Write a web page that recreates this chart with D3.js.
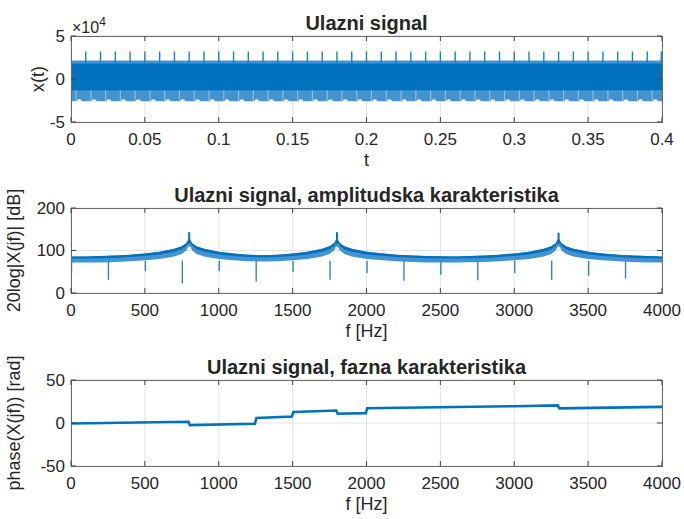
<!DOCTYPE html>
<html lang="en">
<head>
<meta charset="UTF-8">
<title>Ulazni signal</title>
<script src="https://d3js.org/d3.v7.min.js"></script>
<style>
  body { margin: 0; background: #fff; }
  text { font-family: "Liberation Sans", Arial, Helvetica, sans-serif; fill: #262626; }
</style>
</head>
<body>
<script>
  // ---- tick values ----
  const tTicks = [0, 0.05, 0.1, 0.15, 0.2, 0.25, 0.3, 0.35, 0.4];
  const xtTicks = [-50000, 0, 50000];
  const fTicks = [0, 500, 1000, 1500, 2000, 2500, 3000, 3500, 4000];
  const dbTicks = [0, 100, 200];
  const phTicks = [-50, 0, 50];

  // ---- time signal (dense band + periodic spikes) ----
  const bandT = [0, 0.4];
  const bandOuterHi = [21500, 21500];
  const bandOuterLo = [-26000, -26000];
  const bandCoreHi = [18000, 18000];
  const bandCoreLo = [-13000, -13000];
  const spikeT = [0, 0.01, 0.02, 0.03, 0.04, 0.05, 0.06, 0.07, 0.08, 0.09, 0.1,
    0.11, 0.12, 0.13, 0.14, 0.15, 0.16, 0.17, 0.18, 0.19, 0.2,
    0.21, 0.22, 0.23, 0.24, 0.25, 0.26, 0.27, 0.28, 0.29, 0.3,
    0.31, 0.32, 0.33, 0.34, 0.35, 0.36, 0.37, 0.38, 0.39, 0.3995];
  const spikeRange = [19000, 32000];
  const lowSpikeT = [0.0034, 0.0134, 0.0234, 0.0334, 0.0434, 0.0534, 0.0634, 0.0734, 0.0834, 0.0934,
    0.1034, 0.1134, 0.1234, 0.1334, 0.1434, 0.1534, 0.1634, 0.1734, 0.1834, 0.1934,
    0.2034, 0.2134, 0.2234, 0.2334, 0.2434, 0.2534, 0.2634, 0.2734, 0.2834, 0.2934,
    0.3034, 0.3134, 0.3234, 0.3334, 0.3434, 0.3534, 0.3634, 0.3734, 0.3834, 0.3934];
  const lowSpikeRange = [-26000, -9000];
  const dentT = [0.0056, 0.0156, 0.0256, 0.0356, 0.0456, 0.0556, 0.0656, 0.0756, 0.0856, 0.0956,
    0.1056, 0.1156, 0.1256, 0.1356, 0.1456, 0.1556, 0.1656, 0.1756, 0.1856, 0.1956,
    0.2056, 0.2156, 0.2256, 0.2356, 0.2456, 0.2556, 0.2656, 0.2756, 0.2856, 0.2956,
    0.3056, 0.3156, 0.3256, 0.3356, 0.3456, 0.3556, 0.3656, 0.3756, 0.3856, 0.3956];

  // ---- amplitude spectrum (upper / lower edge of the band, dB) ----
  const specF = [0, 100, 200, 300, 400, 500, 600, 700, 750, 780, 792, 800, 808, 820, 850, 900,
    1000, 1100, 1200, 1300, 1400, 1500, 1600, 1700, 1750, 1780, 1792, 1800, 1808, 1820, 1850, 1900,
    2000, 2200, 2400, 2600, 2800, 2900, 3000, 3100, 3200, 3250, 3280, 3292, 3300, 3308, 3320, 3350, 3400,
    3500, 3600, 3700, 3800, 3900, 4000];
  const specHi = [86, 86, 87, 88, 90, 93, 97, 104, 110, 117, 124, 128, 124, 117, 110, 104,
    97, 93, 90, 89, 90, 93, 97, 104, 110, 117, 124, 128, 124, 117, 110, 104,
    97, 90, 87, 86, 88, 90, 93, 97, 104, 110, 117, 124, 128, 124, 117, 110, 104,
    97, 93, 90, 88, 87, 86];
  const specLo = [72, 72, 72, 73, 75, 77, 80, 86, 92, 100, 108, 110, 108, 100, 92, 86,
    80, 77, 75, 74, 75, 77, 80, 86, 92, 100, 108, 110, 108, 100, 92, 86,
    80, 75, 72, 72, 73, 75, 77, 80, 86, 92, 100, 108, 110, 108, 100, 92, 86,
    80, 77, 75, 73, 72, 72];
  const peakF = [800, 1800, 3300];
  const peakDb = [143, 143, 142];
  const dipF = [0, 250, 500, 750, 1000, 1250, 1500, 1750, 2000, 2250, 2500, 2750, 3000, 3250, 3500, 3750];
  const dipDb = [47, 31, 51, 23, 51, 27, 50, 31, 47, 29, 43, 30, 47, 31, 41, 34];

  // ---- phase (rad), piecewise steps ----
  const phaseF = [0, 795, 805, 1245, 1255, 1495, 1505, 1795, 1805, 1995, 2005, 3000, 3295, 3305, 4000];
  const phaseV = [-0.5, 1.5, -2.5, -0.8, 5.8, 7.5, 12.8, 14.5, 10.8, 11.5, 17.2, 19.5, 20.5, 17, 18.8];

  const width = 684, height = 519;
  const left = 71, right = 662;
  const blue = "#0072BD", light = "#4393d2";

  const svg = d3.select("body").append("svg")
    .attr("width", width)
    .attr("height", height);

  const panels = [
    {top: 36, bottom: 122, title: "Ulazni signal", xlabel: "t", ylabel: "x(t)", ylx: 38},
    {top: 208, bottom: 293, title: "Ulazni signal, amplitudska karakteristika", xlabel: "f [Hz]", ylabel: "20log|X(jf)| [dB]", ylx: 14},
    {top: 380, bottom: 466, title: "Ulazni signal, fazna karakteristika", xlabel: "f [Hz]", ylabel: "phase(X(jf)) [rad]", ylx: 14}
  ];

  const xT = d3.scaleLinear().domain([0, 0.4]).range([left, right]);
  const xF = d3.scaleLinear().domain([0, 4000]).range([left, right]);
  const y1 = d3.scaleLinear().domain([-50000, 50000]).range([panels[0].bottom, panels[0].top]);
  const y2 = d3.scaleLinear().domain([0, 200]).range([panels[1].bottom, panels[1].top]);
  const y3 = d3.scaleLinear().domain([-50, 50]).range([panels[2].bottom, panels[2].top]);

  function drawGrid(p, x, y, xt, yt) {
    const g = svg.append("g");
    g.selectAll(".gx").data(xt).join("line")
      .attr("x1", d => x(d)).attr("x2", d => x(d))
      .attr("y1", p.top).attr("y2", p.bottom)
      .attr("stroke", "#e3e3e3").attr("stroke-width", 1);
    g.selectAll(".gy").data(yt).join("line")
      .attr("x1", left).attr("x2", right)
      .attr("y1", d => y(d)).attr("y2", d => y(d))
      .attr("stroke", "#e3e3e3").attr("stroke-width", 1);
  }

  function drawFrame(p, x, y, xt, yt, fx, fy) {
    const g = svg.append("g");
    g.append("rect")
      .attr("x", left + 0.5).attr("y", p.top + 0.5)
      .attr("width", right - left).attr("height", p.bottom - p.top)
      .attr("fill", "none").attr("stroke", "#6a6a6a").attr("stroke-width", 1);
    // ticks pointing inward on all four sides
    xt.forEach(d => {
      g.append("line").attr("x1", x(d)).attr("x2", x(d)).attr("y1", p.bottom).attr("y2", p.bottom - 5).attr("stroke", "#444");
      g.append("line").attr("x1", x(d)).attr("x2", x(d)).attr("y1", p.top).attr("y2", p.top + 5).attr("stroke", "#444");
    });
    yt.forEach(d => {
      g.append("line").attr("x1", left).attr("x2", left + 5).attr("y1", y(d)).attr("y2", y(d)).attr("stroke", "#444");
      g.append("line").attr("x1", right).attr("x2", right - 5).attr("y1", y(d)).attr("y2", y(d)).attr("stroke", "#444");
    });
    g.selectAll(".tx").data(xt).join("text")
      .attr("x", d => x(d)).attr("y", p.bottom + 11)
      .attr("dy", "0.71em").attr("text-anchor", "middle")
      .attr("font-size", 17).text(fx);
    g.selectAll(".ty").data(yt).join("text")
      .attr("x", left - 6).attr("y", d => y(d))
      .attr("dy", "0.35em").attr("text-anchor", "end")
      .attr("font-size", 17).text(fy);
    g.append("text")
      .attr("x", (left + right) / 2).attr("y", p.top - 6)
      .attr("text-anchor", "middle").attr("font-size", 20).attr("font-weight", "bold")
      .attr("fill", "#000").text(p.title);
    g.append("text")
      .attr("x", (left + right) / 2).attr("y", p.bottom + 38)
      .attr("dy", "0.35em").attr("text-anchor", "middle")
      .attr("font-size", 18).text(p.xlabel);
    g.append("text")
      .attr("transform", `translate(${p.ylx},${(p.top + p.bottom) / 2}) rotate(-90)`)
      .attr("dy", "0.35em").attr("text-anchor", "middle")
      .attr("font-size", 18).text(p.ylabel);
  }

  function clipFor(p, id) {
    svg.append("clipPath").attr("id", id)
      .append("rect").attr("x", left).attr("y", p.top)
      .attr("width", right - left).attr("height", p.bottom - p.top);
    return svg.append("g").attr("clip-path", `url(#${id})`);
  }

  // ---------- panel 1: time signal ----------
  drawGrid(panels[0], xT, y1, tTicks, xtTicks);
  const g1 = clipFor(panels[0], "c1");
  const band1 = bandT.map((t, i) => ({t, oh: bandOuterHi[i], ol: bandOuterLo[i], ch: bandCoreHi[i], cl: bandCoreLo[i]}));
  g1.append("path").datum(band1)
    .attr("fill", light)
    .attr("d", d3.area().x(d => xT(d.t)).y0(d => y1(d.ol)).y1(d => y1(d.oh)));
  g1.selectAll(".dent").data(dentT).join("ellipse")
    .attr("cx", d => xT(d)).attr("cy", y1(bandOuterLo[0]) + 1)
    .attr("rx", 2.6).attr("ry", 3).attr("fill", "#fff");
  g1.selectAll(".ls").data(lowSpikeT).join("line")
    .attr("x1", d => xT(d)).attr("x2", d => xT(d))
    .attr("y1", y1(lowSpikeRange[0])).attr("y2", y1(lowSpikeRange[1]))
    .attr("stroke", "#8cbde6").attr("stroke-width", 1.2);
  g1.append("path").datum(band1)
    .attr("fill", blue)
    .attr("d", d3.area().x(d => xT(d.t)).y0(d => y1(d.cl)).y1(d => y1(d.ch)));
  g1.selectAll(".sp").data(spikeT).join("line")
    .attr("x1", d => xT(d)).attr("x2", d => xT(d))
    .attr("y1", y1(spikeRange[0])).attr("y2", y1(spikeRange[1]))
    .attr("stroke", "#1a80c6").attr("stroke-width", 1.4);
  drawFrame(panels[0], xT, y1, tTicks, xtTicks, d => d, d => d / 10000);
  const ex = svg.append("text").attr("x", left + 1).attr("y", panels[0].top - 3).attr("font-size", 16).attr("fill", "#404040");
  ex.append("tspan").text("\u00d710");
  ex.append("tspan").attr("dy", -7).attr("font-size", 12).text("4");

  // ---------- panel 2: amplitude spectrum ----------
  drawGrid(panels[1], xF, y2, fTicks, dbTicks);
  const g2 = clipFor(panels[1], "c2");
  const spec = specF.map((f, i) => ({f, hi: specHi[i], lo: specLo[i]}));
  g2.append("path").datum(spec)
    .attr("fill", light)
    .attr("d", d3.area().x(d => xF(d.f)).y0(d => y2(d.lo)).y1(d => y2(d.hi)));
  g2.append("path").datum(spec)
    .attr("fill", blue)
    .attr("d", d3.area().x(d => xF(d.f)).y0(d => y2((d.hi + d.lo) / 2 + 2)).y1(d => y2(d.hi)));
  g2.selectAll(".dip").data(dipF).join("line")
    .attr("x1", d => xF(d) + 0.5).attr("x2", d => xF(d) + 0.5)
    .attr("y1", y2(specLo[0] + 4))
    .attr("y2", (d, i) => y2(dipDb[i]))
    .attr("stroke", "#2a86c9").attr("stroke-width", 1.4);
  g2.selectAll(".pk").data(peakF).join("line")
    .attr("x1", d => xF(d)).attr("x2", d => xF(d))
    .attr("y1", y2(115)).attr("y2", (d, i) => y2(peakDb[i]))
    .attr("stroke", blue).attr("stroke-width", 2);
  drawFrame(panels[1], xF, y2, fTicks, dbTicks, d => d, d => d);

  // ---------- panel 3: phase ----------
  drawGrid(panels[2], xF, y3, fTicks, phTicks);
  const g3 = clipFor(panels[2], "c3");
  const ph = phaseF.map((f, i) => ({f, v: phaseV[i]}));
  g3.append("path").datum(ph)
    .attr("fill", "none").attr("stroke", blue).attr("stroke-width", 2.6)
    .attr("d", d3.line().x(d => xF(d.f)).y(d => y3(d.v)));
  drawFrame(panels[2], xF, y3, fTicks, phTicks, d => d, d => d);
</script>
</body>
</html>
